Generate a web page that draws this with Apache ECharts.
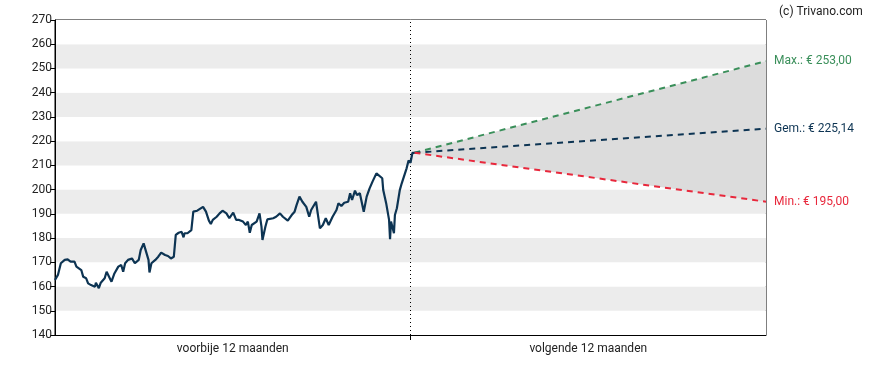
<!DOCTYPE html>
<html>
<head>
<meta charset="utf-8">
<script src="https://cdn.jsdelivr.net/npm/echarts@6/dist/echarts.min.js"></script>
<style>html,body{margin:0;padding:0;background:#fff}#c{width:888px;height:370px}</style>
</head>
<body>
<div id="c"></div>
<script>
// Periods (x-axis category labels)
const periods = ['voorbije 12 maanden', 'volgende 12 maanden'];
// Y-axis ticks
const yMin = 140, yMax = 270, yStep = 10;
// Historic price: day offset relative to today, and close value
const histDays = [-365,-362,-359,-355,-352,-349,-347,-345,-343,-342,-338,-336,-333,-331,-328,-324,-323,-320,-318,-314,-312,-310,-307,-304,-300,-297,-295,-293,-290,-286,-283,-279,-277,-274,-272,-269,-268,-266,-262,-259,-256,-252,-249,-246,-243,-241,-238,-235,-233,-232,-229,-225,-223,-221,-219,-217,-213,-210,-207,-205,-203,-199,-196,-193,-189,-186,-182,-179,-176,-172,-169,-167,-165,-163,-158,-155,-153,-152,-149,-147,-141,-138,-134,-131,-126,-122,-119,-117,-114,-111,-107,-104,-102,-97,-93,-90,-87,-84,-80,-76,-74,-71,-68,-64,-62,-60,-57,-55,-52,-48,-45,-42,-39,-35,-33,-29,-28,-25,-22,-21,-20,-17,-16,-14,-11,-9,-7,-4,-2,0,2,4];
const histValues = [162.7,164.8,169.6,171.0,171.2,170.3,169.6,170.3,168.2,167.5,166.8,164.0,163.4,161.3,160.6,159.9,161.6,159.3,161.6,163.4,166.1,166.1,162.0,165.4,168.2,168.9,166.1,169.6,171.0,171.6,169.6,171.0,175.1,177.8,177.1,171.0,165.8,169.6,171.0,172.3,174.0,173.0,172.6,171.6,172.3,181.3,182.2,182.6,180.3,182.0,182.0,183.3,190.9,190.2,191.3,191.6,192.9,190.9,187.2,185.8,187.5,188.8,190.2,191.3,190.2,188.2,190.5,187.5,187.5,186.8,185.4,186.8,182.2,185.4,186.8,190.2,184.7,179.2,184.7,187.7,188.2,188.8,190.2,188.8,187.2,189.5,190.9,193.6,197.1,195.0,192.9,188.8,191.6,195.0,184.0,185.4,188.2,185.4,188.8,191.6,194.4,193.2,194.6,195.0,198.5,195.7,199.6,197.8,198.5,190.9,197.1,200.5,203.3,206.7,207.0,204.7,199.8,194.4,187.5,179.5,186.8,182.0,189.5,192.3,199.8,202.6,203.3,208.8,212.0,211.1,215.2,215.2];
// Forecast (12 months ahead)
const fcDays = [4, 365];
const fcStart = 215.2;
const fcMax = 253.00, fcAvg = 225.14, fcMin = 195.00;

const fmt = v => '€ ' + v.toFixed(2).replace('.', ',');
const pairs = (d, v) => d.map((x, i) => [x, v[i]]);
const minLine = pairs(fcDays, [fcStart, fcMin]);
const maxLine = pairs(fcDays, [fcStart, fcMax]);
const avgLine = pairs(fcDays, [fcStart, fcAvg]);
// polygon of the forecast range: start -> max end -> min end
const bandPoly = [[fcDays[0], fcStart], [fcDays[1], fcMax], [fcDays[1], fcMin]];

const font = 'Roboto, "Liberation Sans", Arial, sans-serif';
const chart = echarts.init(document.getElementById('c'), null, {renderer: 'canvas'});
chart.setOption({
  animation: false,
  title: {text: '(c) Trivano.com', left: 774, top: 1, textStyle: {fontFamily: font, fontSize: 12, fontWeight: 'normal', color: '#222'}},
  grid: {left: 55, right: 122, top: 20, bottom: 35, show: true, borderColor: '#000', borderWidth: 1, backgroundColor: 'transparent'},
  xAxis: [
    {type: 'category', data: periods, boundaryGap: true, position: 'bottom',
     axisLine: {onZero: false, lineStyle: {color: '#000', width: 1}},
     axisTick: {show: false},
     splitLine: {show: false}, splitArea: {show: false},
     axisLabel: {fontFamily: font, fontSize: 12, color: '#222', margin: 8}},
    {type: 'value', min: -365, max: 365, position: 'bottom', show: true,
     axisLine: {show: false, onZero: false}, axisLabel: {show: false},
     axisTick: {show: true, length: 5, lineStyle: {color: '#000'}, customValues: [0]},
     splitLine: {show: false}, splitArea: {show: false}}
  ],
  yAxis: {type: 'value', min: yMin, max: yMax, interval: yStep,
    axisLine: {show: true, onZero: false, lineStyle: {color: '#000'}},
    axisTick: {show: true, length: 5, lineStyle: {color: '#000'}},
    axisLabel: {fontFamily: font, fontSize: 12, color: '#222', margin: 3},
    splitLine: {show: false},
    splitArea: {show: true, areaStyle: {color: ['#ffffff', '#ececec']}}},
  series: [
    {type: 'custom', xAxisIndex: 1, data: [0], silent: true, z: 1,
     renderItem: (params, api) => ({
       type: 'polygon',
       shape: {points: bandPoly.map(p => api.coord(p))},
       style: {fill: '#dcdcdc'}
     })},
    {type: 'line', xAxisIndex: 1, data: pairs(histDays, histValues), symbol: 'none', lineStyle: {color: '#0d3453', width: 2.2}, z: 5},
    {type: 'line', xAxisIndex: 1, data: maxLine, symbol: 'none', lineStyle: {color: '#3a8f5a', width: 2, type: [6, 5]}, z: 4,
     endLabel: {show: true, formatter: 'Max.: ' + fmt(fcMax), color: '#3a8f5a', fontFamily: font, fontSize: 12, distance: 8}},
    {type: 'line', xAxisIndex: 1, data: avgLine, symbol: 'none', lineStyle: {color: '#0d3453', width: 2, type: [6, 5]}, z: 4,
     endLabel: {show: true, formatter: 'Gem.: ' + fmt(fcAvg), color: '#0d3453', fontFamily: font, fontSize: 12, distance: 8}},
    {type: 'line', xAxisIndex: 1, data: minLine, symbol: 'none', lineStyle: {color: '#e8283c', width: 2, type: [6, 5]}, z: 4,
     endLabel: {show: true, formatter: 'Min.: ' + fmt(fcMin), color: '#e8283c', fontFamily: font, fontSize: 12, distance: 8},
     markLine: {silent: true, symbol: 'none', label: {show: false}, lineStyle: {color: '#000', type: [1, 3], width: 1}, data: [{xAxis: 0}]}}
  ]
});
</script>
</body>
</html>
